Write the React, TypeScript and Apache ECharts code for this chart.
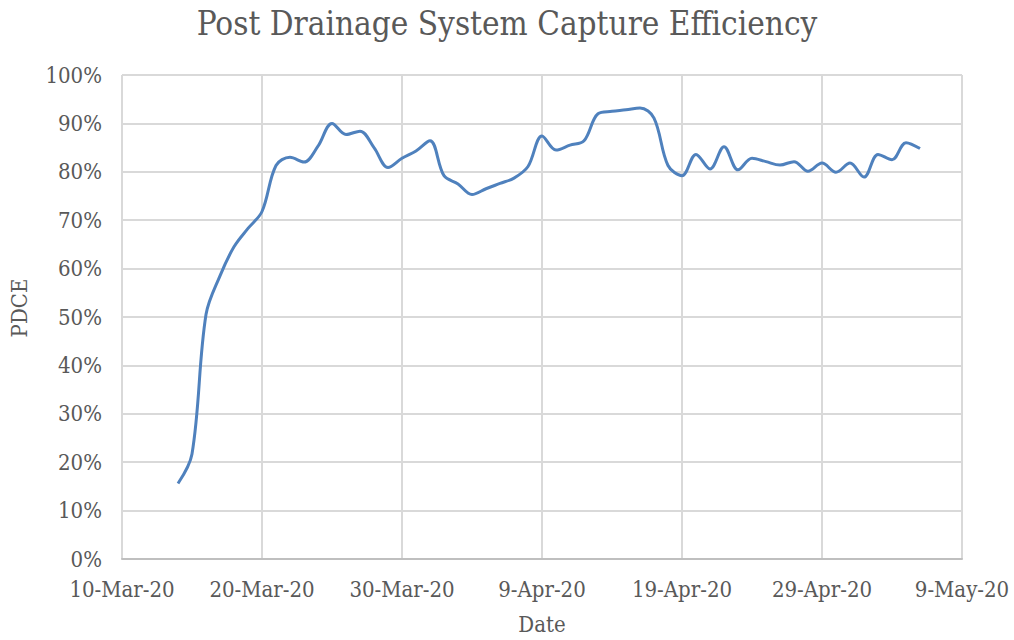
import React, { useEffect, useRef } from "react";
import * as echarts from "echarts";

const dates: string[] = [
  "2020-03-14","2020-03-15","2020-03-16","2020-03-17","2020-03-18","2020-03-19","2020-03-20",
  "2020-03-21","2020-03-22","2020-03-23","2020-03-24","2020-03-25","2020-03-26","2020-03-27",
  "2020-03-28","2020-03-29","2020-03-30","2020-03-31","2020-04-01","2020-04-02","2020-04-03",
  "2020-04-04","2020-04-05","2020-04-06","2020-04-07","2020-04-08","2020-04-09","2020-04-10",
  "2020-04-11","2020-04-12","2020-04-13","2020-04-14","2020-04-15","2020-04-16","2020-04-17",
  "2020-04-18","2020-04-19","2020-04-20","2020-04-21","2020-04-22","2020-04-23","2020-04-24",
  "2020-04-25","2020-04-26","2020-04-27","2020-04-28","2020-04-29","2020-04-30","2020-05-01",
  "2020-05-02","2020-05-03","2020-05-04","2020-05-05","2020-05-06"
];
const pdce: number[] = [
  0.156, 0.217, 0.505, 0.585, 0.645, 0.683, 0.718,
  0.813, 0.830, 0.820, 0.853, 0.900, 0.877, 0.884,
  0.850, 0.809, 0.828, 0.843, 0.864, 0.792, 0.775,
  0.753, 0.765, 0.776, 0.787, 0.811, 0.874, 0.845,
  0.855, 0.864, 0.920, 0.925, 0.928, 0.932, 0.911,
  0.813, 0.792, 0.836, 0.806, 0.852, 0.804, 0.828,
  0.821, 0.814, 0.821, 0.801, 0.818, 0.799, 0.818,
  0.789, 0.836, 0.825, 0.860, 0.848
];
const axisStart = "2020-03-10";
const xMaxDays = 60;
const xStepDays = 10;
const months = ["Jan","Feb","Mar","Apr","May","Jun","Jul","Aug","Sep","Oct","Nov","Dec"];

const DAY = 86400000;
const toMs = (s: string) => {
  const [y, m, d] = s.split("-").map(Number);
  return Date.UTC(y, m - 1, d);
};
const startMs = toMs(axisStart);
const fmtDay = (v: number) => {
  const dt = new Date(startMs + v * DAY);
  return `${dt.getUTCDate()}-${months[dt.getUTCMonth()]}-${String(dt.getUTCFullYear()).slice(2)}`;
};

const FONT = "'DejaVu Serif Condensed', 'Liberation Serif', serif";
const TXT = "#595959";

export default function App() {
  const ref = useRef<HTMLDivElement>(null);
  useEffect(() => {
    document.body.style.margin = "0";
    if (!ref.current) return;
    const chart = echarts.init(ref.current, undefined, { renderer: "svg" });
    const data = dates.map((d, i) => [(toMs(d) - startMs) / DAY, pdce[i]]);
    chart.setOption({
      animation: false,
      backgroundColor: "#ffffff",
      textStyle: { fontFamily: FONT },
      title: {
        text: "Post Drainage System Capture Efficiency",
        left: "center",
        top: 2,
        textStyle: { fontFamily: FONT, fontSize: 33, fontWeight: "normal", color: TXT },
      },
      grid: { left: 122, right: 52, top: 75, bottom: 76 },
      xAxis: {
        type: "value",
        min: 0,
        max: xMaxDays,
        interval: xStepDays,
        name: "Date",
        nameLocation: "middle",
        nameGap: 54,
        nameTextStyle: { fontFamily: FONT, fontSize: 22, color: TXT },
        axisLine: { show: true, lineStyle: { color: "#bfbfbf", width: 2 } },
        axisTick: { show: false },
        axisLabel: { formatter: fmtDay, fontFamily: FONT, fontSize: 22, color: TXT, margin: 19 },
        splitLine: { show: true, lineStyle: { color: "#d9d9d9", width: 2 } },
      },
      yAxis: {
        type: "value",
        min: 0,
        max: 1,
        interval: 0.1,
        name: "PDCE",
        nameLocation: "middle",
        nameGap: 92,
        nameRotate: 90,
        nameTextStyle: { fontFamily: FONT, fontSize: 22, color: TXT, padding: [0, 0, 0, 18] },
        axisLine: { show: false },
        axisTick: { show: false },
        axisLabel: {
          formatter: (v: number) => `${Math.round(v * 100)}%`,
          fontFamily: FONT,
          fontSize: 22,
          color: TXT,
          margin: 20,
        },
        splitLine: { show: true, lineStyle: { color: "#d9d9d9", width: 2 } },
      },
      series: [
        {
          type: "line",
          data,
          smooth: 0.35,
          showSymbol: false,
          lineStyle: { color: "#4f81bd", width: 3 },
          itemStyle: { color: "#4f81bd" },
        },
      ],
    });
    return () => chart.dispose();
  }, []);
  return <div ref={ref} style={{ width: 1014, height: 640 }} />;
}
